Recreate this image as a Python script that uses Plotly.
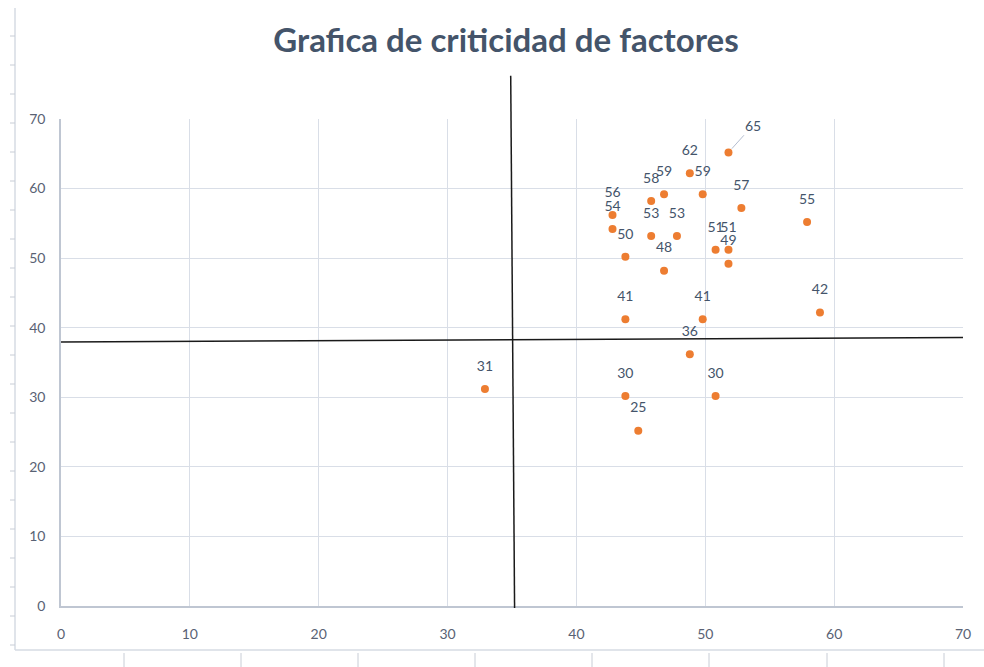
import plotly.graph_objects as go

# ---- data ----
x_vals = [51.8, 48.8, 46.8, 49.8, 45.8, 52.8, 42.8, 57.9, 42.8, 45.8, 47.8, 50.8,
          51.8, 43.8, 51.8, 46.8, 43.8, 49.8, 58.9, 48.8, 32.9, 43.8, 50.8, 44.8]
y_vals = [65.2, 62.2, 59.2, 59.2, 58.2, 57.2, 56.2, 55.2, 54.2, 53.2, 53.2, 51.2,
          51.2, 50.2, 49.2, 48.2, 41.2, 41.2, 42.2, 36.2, 31.2, 30.2, 30.2, 25.2]
labels = ["65", "62", "59", "59", "58", "57", "56", "55", "54", "53", "53", "51",
          "51", "50", "49", "48", "41", "41", "42", "36", "31", "30", "30", "25"]
callout_index = 0            # label drawn with a leader line
callout_text_pos = (53.7, 69.1)

# quadrant divider lines (data units)
vline_x = [34.9, 35.2]
vline_y = [76.2, -0.3]
hline_x = [0, 70]
hline_y = [37.95, 38.6]

x_ticks = [0, 10, 20, 30, 40, 50, 60, 70]
y_ticks = [0, 10, 20, 30, 40, 50, 60, 70]
x_range = [0, 70]
y_range = [0, 70]

title = "Grafica de criticidad de factores"

# ---- figure ----
W, H = 984, 667
ML, MR, MT, MB = 61, 21, 119, 61
PW, PH = W - ML - MR, H - MT - MB

def px_x(p):  # pixel -> paper x
    return (p - ML) / PW

def px_y(p):  # pixel -> paper y
    return (H - MB - p) / PH

point_text = [("" if i == callout_index else t) for i, t in enumerate(labels)]
lab_font = dict(family="Lato, Open Sans, sans-serif", size=14, color="#44546A")

fig = go.Figure()
# labels (placed via a transparent, larger marker to get Excel-like spacing)
fig.add_trace(go.Scatter(
    x=x_vals, y=y_vals, mode="markers+text",
    text=point_text, textposition="top center", textfont=lab_font,
    marker=dict(color="rgba(0,0,0,0)", size=22),
    cliponaxis=False, showlegend=False, hoverinfo="skip",
))
fig.add_trace(go.Scatter(
    x=x_vals, y=y_vals, mode="markers",
    marker=dict(color="#ED7D31", size=8),
    cliponaxis=False, showlegend=False, hoverinfo="x+y",
))

# horizontal divider
fig.add_shape(type="line", xref="x", yref="y",
              x0=hline_x[0], x1=hline_x[1], y0=hline_y[0], y1=hline_y[1],
              line=dict(color="#1a1a1a", width=1.5), layer="above")
# vertical divider (extends above the plot area)
fig.add_shape(type="line", xref="x", yref="paper",
              x0=vline_x[0], x1=vline_x[1],
              y0=(vline_y[0] - y_range[0]) / (y_range[1] - y_range[0]),
              y1=(vline_y[1] - y_range[0]) / (y_range[1] - y_range[0]),
              line=dict(color="#1a1a1a", width=1.5), layer="above")

# callout label with leader line
fig.add_annotation(
    x=x_vals[callout_index], y=y_vals[callout_index],
    ax=callout_text_pos[0], ay=callout_text_pos[1], axref="x", ayref="y",
    text=labels[callout_index], showarrow=True, arrowhead=0, arrowwidth=1,
    arrowcolor="#B4BDD0", standoff=5, font=lab_font,
)

# chart-area border (left & bottom) and sheet grid hints
border_col = "#D6DBE3"
fig.add_shape(type="line", xref="paper", yref="paper",
              x0=px_x(15), x1=px_x(15), y0=px_y(8), y1=px_y(650),
              line=dict(color=border_col, width=1.5))
fig.add_shape(type="line", xref="paper", yref="paper",
              x0=px_x(15), x1=px_x(984), y0=px_y(650), y1=px_y(650),
              line=dict(color=border_col, width=1.5))
for r in range(36, 650, 29):
    fig.add_shape(type="line", xref="paper", yref="paper",
                  x0=px_x(10), x1=px_x(15), y0=px_y(r), y1=px_y(r),
                  line=dict(color="#C8CDD6", width=1))
for c in [124, 241, 358, 475, 592, 709, 827, 944]:
    fig.add_shape(type="line", xref="paper", yref="paper",
                  x0=px_x(c), x1=px_x(c), y0=px_y(653), y1=px_y(667),
                  line=dict(color="#C8CDD6", width=1))

tick_font = dict(family="Lato, Open Sans, sans-serif", size=14, color="#596274")
grid_col = "#D9DEE7"

fig.update_layout(
    width=W, height=H,
    margin=dict(l=ML, r=MR, t=MT, b=MB),
    paper_bgcolor="white", plot_bgcolor="white",
    title=dict(text=f"<b>{title}</b>", x=(506 / W), xanchor="center",
               y=1 - 40 / H, yanchor="middle", yref="container",
               font=dict(family="Lato, Open Sans, sans-serif", size=33, color="#44546A")),
    xaxis=dict(range=x_range, tickvals=x_ticks, showgrid=True, gridcolor=grid_col,
               gridwidth=1, zeroline=False, showline=True, linecolor="#BFC6D2",
               linewidth=1.5, ticks="", tickfont=tick_font, ticklabelstandoff=14),
    yaxis=dict(range=y_range, tickvals=y_ticks, showgrid=True, gridcolor=grid_col,
               gridwidth=1, zeroline=False, showline=True, linecolor="#BFC6D2",
               linewidth=1.5, ticks="", tickfont=tick_font, ticklabelstandoff=11),
)

fig.write_html("out.html", config={"displayModeBar": False},
               post_script="document.body.style.margin='0';document.body.style.overflow='hidden';")
